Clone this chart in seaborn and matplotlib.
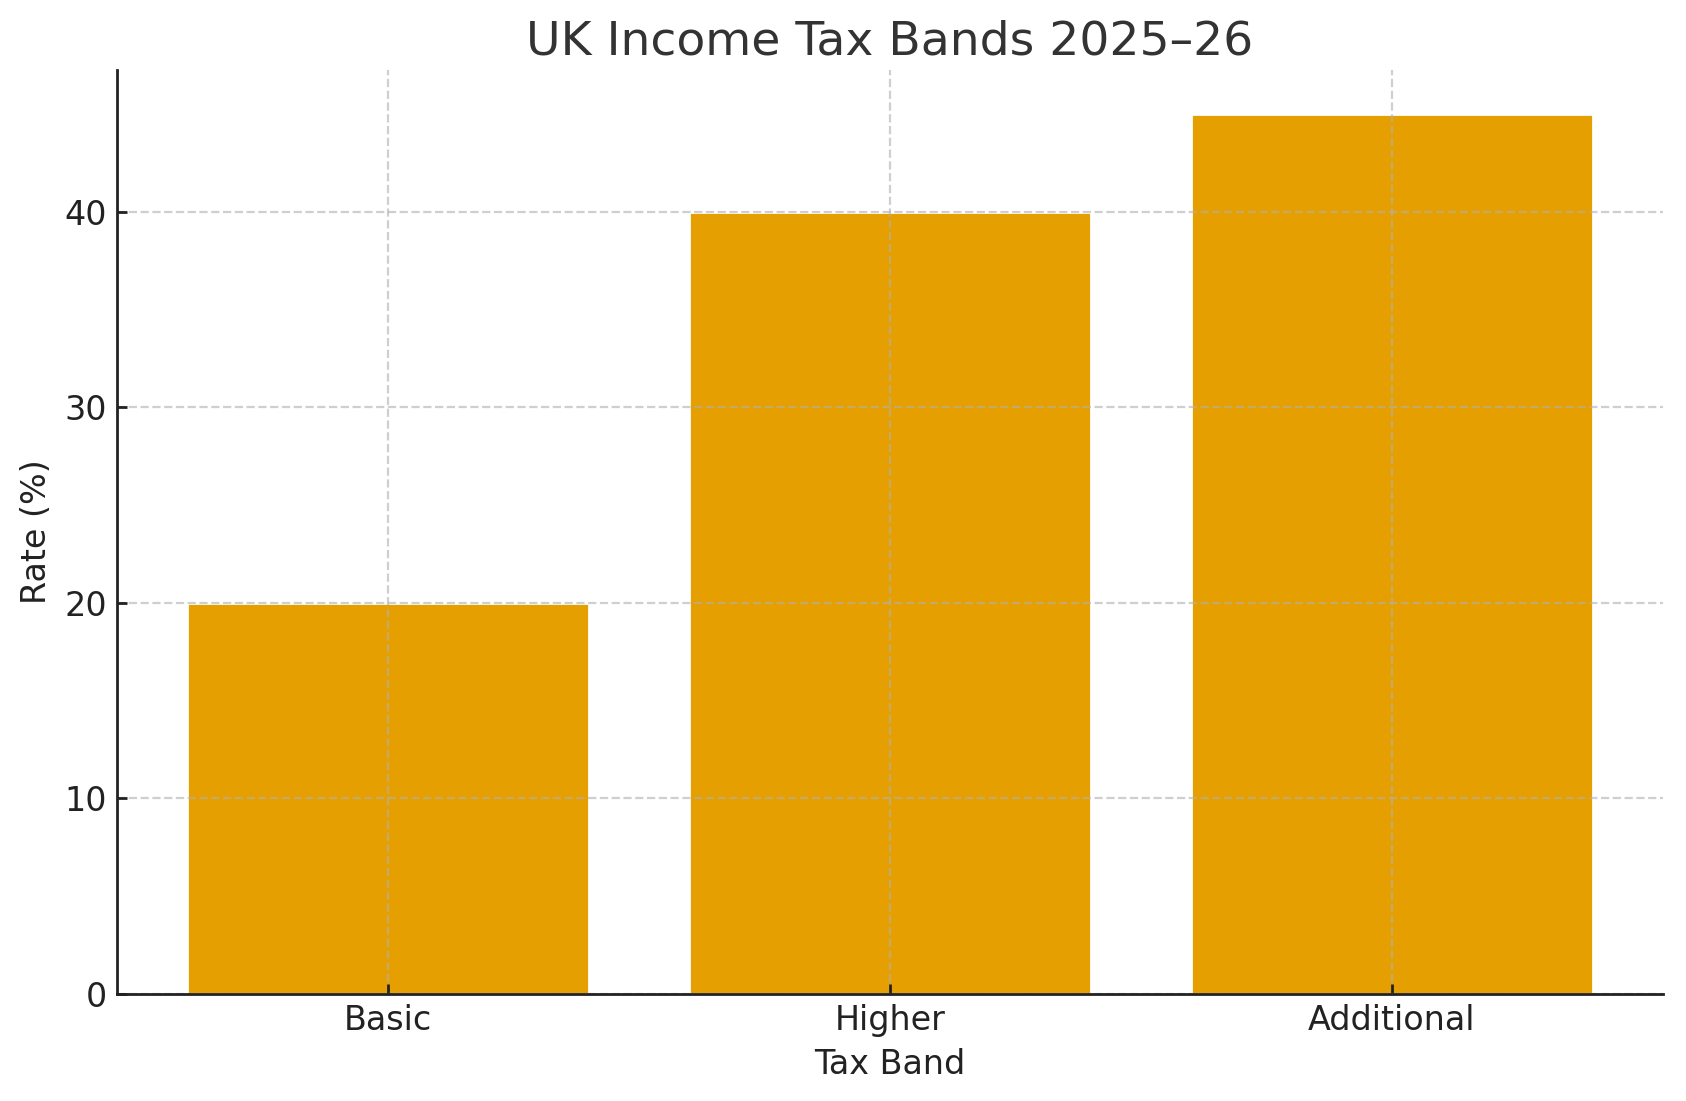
import matplotlib
matplotlib.use("Agg")
import matplotlib.pyplot as plt
import seaborn as sns
import pandas as pd

# tax bands and their rates
bands = ["Basic", "Higher", "Additional"]
rates = [20, 40, 45]

df = pd.DataFrame({"Tax Band": bands, "Rate (%)": rates})

sns.set_style("ticks")
plt.rcParams["font.family"] = ["DejaVu Sans"]

fig = plt.figure(figsize=(8.43, 5.505), dpi=200)
ax = fig.add_axes([0.0691, 0.0972, 0.9173, 0.8392])

sns.barplot(data=df, x="Tax Band", y="Rate (%)", color="#E69F00",
            saturation=1, width=0.8, ax=ax, zorder=2)

ax.set_title("UK Income Tax Bands 2025\u201326", fontsize=17, color="#333333", pad=5.5)
ax.set_xlabel("Tax Band", fontsize=12, color="#222222")
ax.set_ylabel("Rate (%)", fontsize=12, color="#222222")
ax.tick_params(axis="both", direction="in", labelsize=12, colors="#222222",
               length=3.5, width=1.0)
ax.set_xlim(-0.54, 2.54)
ax.set_ylim(0, 47.25)
ax.set_yticks([0, 10, 20, 30, 40])

# grid sits on top of the bars, half transparent
ax.grid(True, linestyle="--", color="#b0b0b0", alpha=0.6, linewidth=0.8, zorder=3)
ax.set_axisbelow(False)
for s in ["top", "right"]:
    ax.spines[s].set_visible(False)
for s in ["left", "bottom"]:
    ax.spines[s].set_color("#222222")
    ax.spines[s].set_linewidth(1.0)
    ax.spines[s].set_zorder(4)

plt.savefig("out.png", dpi=200)
